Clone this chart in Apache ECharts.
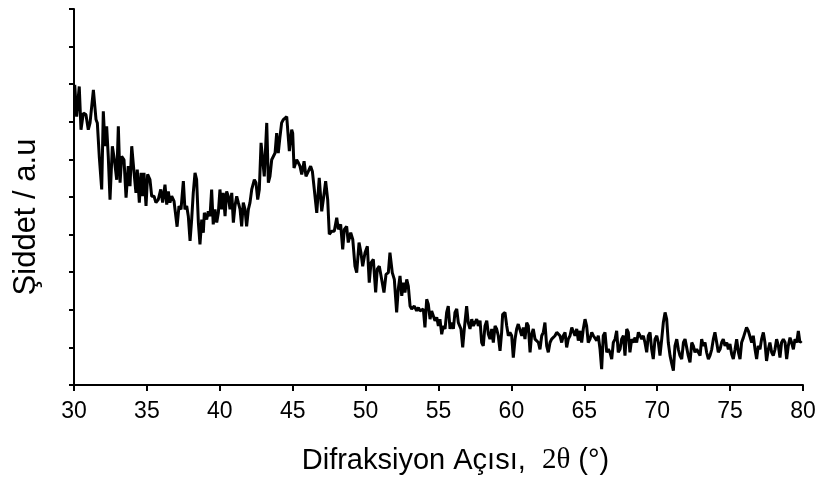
<!DOCTYPE html>
<html>
<head>
<meta charset="utf-8">
<script src="https://cdn.jsdelivr.net/npm/echarts@6/dist/echarts.min.js"></script>
<style>
  html, body { margin: 0; padding: 0; background: #fff; }
  #main { width: 820px; height: 480px; }
</style>
</head>
<body>
<div id="main"></div>
<script>
// 2θ (derece) ve şiddet (keyfi birim)
var twoTheta = [
  30.05, 30.18, 30.36, 30.48, 30.64, 30.82, 30.98, 31.10, 31.33, 31.51, 31.60, 31.74, 31.90, 32.01, 32.13, 32.24,
  32.35, 32.47, 32.63, 32.77, 32.93, 33.04, 33.16, 33.27, 33.43, 33.57, 33.72, 33.84, 33.96, 34.12, 34.25, 34.34,
  34.48, 34.60, 34.71, 34.80, 34.94, 35.05, 35.21, 35.33, 35.49, 35.62, 35.78, 35.95, 36.08, 36.24, 36.36, 36.47,
  36.58, 36.70, 36.86, 37.07, 37.20, 37.34, 37.50, 37.61, 37.73, 37.84, 37.96, 38.07, 38.18, 38.30, 38.41, 38.53,
  38.64, 38.76, 38.87, 38.94, 39.10, 39.21, 39.33, 39.44, 39.55, 39.67, 39.79, 39.90, 40.01, 40.13, 40.24, 40.36,
  40.47, 40.58, 40.70, 40.82, 40.93, 41.04, 41.16, 41.27, 41.39, 41.50, 41.61, 41.73, 41.84, 41.96, 42.07, 42.19,
  42.37, 42.48, 42.60, 42.71, 42.83, 42.94, 43.05, 43.22, 43.33, 43.44, 43.56, 43.67, 43.79, 43.90, 44.01, 44.13,
  44.24, 44.36, 44.59, 44.77, 44.93, 45.00, 45.09, 45.27, 45.39, 45.50, 45.62, 45.78, 45.91, 46.07, 46.23, 46.35,
  46.53, 46.65, 46.82, 46.99, 47.10, 47.26, 47.40, 47.51, 47.67, 47.85, 48.02, 48.13, 48.29, 48.43, 48.54, 48.70,
  48.81, 48.98, 49.12, 49.27, 49.39, 49.55, 49.68, 49.80, 49.96, 50.12, 50.25, 50.37, 50.53, 50.69, 50.80, 50.94,
  51.10, 51.26, 51.40, 51.56, 51.67, 51.83, 51.97, 52.13, 52.24, 52.36, 52.48, 52.59, 52.70, 52.82, 52.93, 53.05,
  53.16, 53.34, 53.50, 53.62, 53.73, 53.85, 53.96, 54.07, 54.19, 54.30, 54.42, 54.53, 54.64, 54.76, 54.88, 54.99,
  55.10, 55.22, 55.33, 55.45, 55.56, 55.67, 55.79, 55.91, 56.02, 56.13, 56.25, 56.36, 56.54, 56.66, 56.77, 56.93,
  57.04, 57.16, 57.28, 57.39, 57.50, 57.62, 57.73, 57.85, 57.96, 58.07, 58.19, 58.31, 58.42, 58.53, 58.65, 58.76,
  58.88, 58.99, 59.10, 59.22, 59.33, 59.40, 59.56, 59.68, 59.79, 59.90, 60.02, 60.13, 60.25, 60.36, 60.47, 60.59,
  60.71, 60.82, 60.93, 61.05, 61.16, 61.28, 61.39, 61.50, 61.62, 61.74, 61.85, 61.96, 62.08, 62.19, 62.30, 62.42,
  62.53, 62.65, 62.76, 62.87, 62.99, 63.11, 63.22, 63.33, 63.45, 63.56, 63.68, 63.79, 63.90, 64.02, 64.14, 64.25,
  64.36, 64.48, 64.59, 64.71, 64.82, 64.93, 65.05, 65.16, 65.27, 65.39, 65.51, 65.62, 65.73, 65.85, 65.96, 66.08,
  66.19, 66.30, 66.42, 66.54, 66.65, 66.76, 66.88, 66.99, 67.11, 67.22, 67.33, 67.45, 67.56, 67.68, 67.79, 67.91,
  68.02, 68.13, 68.25, 68.36, 68.48, 68.59, 68.71, 68.82, 68.94, 69.05, 69.16, 69.28, 69.39, 69.51, 69.62, 69.73,
  69.85, 69.97, 70.08, 70.19, 70.31, 70.42, 70.54, 70.65, 70.76, 70.88, 71.00, 71.11, 71.22, 71.34, 71.45, 71.56,
  71.68, 71.80, 71.91, 72.02, 72.13, 72.25, 72.37, 72.48, 72.59, 72.71, 72.82, 72.94, 73.05, 73.16, 73.28, 73.39,
  73.51, 73.62, 73.74, 73.85, 73.96, 74.08, 74.19, 74.31, 74.42, 74.53, 74.65, 74.77, 74.88, 74.99, 75.11, 75.22,
  75.34, 75.45, 75.57, 75.68, 75.79, 75.91, 76.02, 76.13, 76.25, 76.37, 76.48, 76.59, 76.71, 76.82, 76.93, 77.05,
  77.16, 77.28, 77.39, 77.50, 77.62, 77.73, 77.85, 77.96, 78.08, 78.19, 78.31, 78.42, 78.53, 78.65, 78.77, 78.88,
  78.99, 79.11, 79.22, 79.34, 79.45, 79.57, 79.68, 79.79, 79.90
];
var intensity = [
  7.98, 7.14, 7.94, 6.79, 7.23, 7.19, 6.79, 6.97, 7.85, 7.06, 6.97, 6.04, 5.20, 7.28, 6.35, 6.88,
  6.08, 4.93, 6.35, 5.99, 5.46, 6.88, 5.38, 6.08, 5.99, 4.98, 5.82, 5.29, 6.35, 5.64, 5.11, 5.73,
  4.85, 5.64, 5.02, 5.64, 4.76, 5.60, 5.46, 5.02, 5.02, 4.85, 4.93, 5.20, 4.85, 5.33, 4.80, 5.15,
  4.85, 5.02, 4.89, 4.21, 4.76, 4.67, 5.42, 4.67, 4.76, 4.49, 3.83, 4.40, 5.11, 5.64, 5.46, 4.32,
  3.74, 4.40, 4.05, 4.58, 4.40, 4.62, 4.49, 5.20, 4.27, 4.67, 4.32, 4.58, 5.20, 4.67, 5.11, 4.49,
  5.15, 5.02, 4.67, 5.11, 4.32, 4.76, 5.02, 4.85, 4.67, 4.22, 4.85, 4.67, 4.22, 4.67, 4.85, 5.20,
  5.46, 5.38, 4.93, 5.20, 6.44, 6.44, 5.55, 6.97, 5.38, 5.55, 5.99, 6.04, 6.17, 6.70, 6.17, 6.61,
  6.97, 7.06, 7.14, 6.22, 6.79, 6.70, 5.77, 5.99, 5.91, 5.82, 5.60, 5.95, 5.55, 5.68, 5.82, 5.68,
  5.02, 4.58, 5.51, 4.62, 4.93, 5.42, 4.93, 4.01, 4.09, 4.09, 4.45, 4.14, 4.27, 3.61, 4.14, 4.22,
  3.79, 4.05, 3.87, 3.16, 2.99, 3.79, 3.52, 3.16, 3.52, 3.69, 2.72, 3.25, 3.34, 2.46, 3.08, 3.16,
  2.81, 2.46, 2.94, 2.99, 3.52, 2.99, 2.81, 1.93, 2.55, 2.90, 2.37, 2.72, 2.46, 2.81, 2.63, 2.10,
  2.02, 2.10, 1.97, 2.06, 1.97, 1.97, 2.02, 1.53, 2.28, 2.15, 1.75, 1.97, 2.02, 1.71, 1.80, 1.57,
  1.75, 1.35, 1.57, 1.49, 1.93, 2.10, 1.49, 1.66, 1.49, 1.93, 2.02, 1.66, 1.49, 1.00, 1.49, 2.10,
  1.66, 1.49, 1.75, 1.57, 1.66, 1.75, 1.57, 1.71, 1.13, 1.04, 1.57, 1.71, 1.35, 1.22, 1.49, 1.13,
  1.57, 1.49, 1.31, 0.91, 1.40, 1.88, 1.93, 1.57, 1.31, 1.40, 1.31, 0.73, 1.22, 1.49, 1.62, 1.57,
  1.31, 1.53, 1.22, 1.66, 1.57, 0.87, 1.35, 1.49, 1.22, 1.26, 1.13, 0.95, 1.31, 1.40, 1.66, 1.04,
  0.87, 1.13, 1.22, 1.18, 1.31, 1.40, 1.44, 1.31, 1.13, 1.31, 1.40, 1.00, 1.22, 1.31, 1.53, 1.57,
  1.31, 1.49, 1.18, 1.44, 1.13, 1.49, 1.75, 1.57, 1.13, 1.22, 1.40, 1.31, 1.35, 1.18, 1.31, 0.95,
  0.42, 1.31, 1.40, 0.87, 0.95, 0.87, 0.69, 1.13, 1.22, 1.44, 0.87, 0.95, 1.22, 1.31, 0.78, 1.49,
  1.40, 0.87, 1.22, 1.13, 1.26, 1.13, 1.40, 1.35, 1.22, 1.31, 1.13, 0.87, 1.31, 1.40, 0.95, 0.69,
  1.22, 1.31, 1.13, 0.78, 1.22, 1.66, 1.93, 1.75, 1.13, 0.78, 0.56, 0.38, 1.04, 1.22, 0.95, 0.78,
  0.69, 1.13, 1.22, 1.00, 0.78, 0.60, 1.13, 1.04, 0.87, 0.95, 1.00, 0.78, 1.22, 1.04, 1.13, 0.87,
  0.69, 0.78, 0.95, 1.22, 1.40, 1.13, 0.87, 0.95, 1.13, 1.22, 1.04, 1.13, 0.95, 1.09, 0.82, 0.69,
  0.95, 1.22, 0.87, 0.69, 1.13, 1.26, 1.40, 1.53, 1.44, 1.49, 1.13, 1.31, 0.95, 0.69, 1.04, 0.95,
  1.22, 1.40, 1.13, 0.64, 0.95, 1.13, 0.87, 0.78, 0.95, 1.22, 1.04, 0.73, 1.13, 1.22, 1.13, 0.69,
  1.04, 1.26, 1.13, 0.95, 1.22, 1.13, 1.44, 1.13, 1.17
];
var xTicks = [30, 35, 40, 45, 50, 55, 60, 65, 70, 75, 80];

var myChart = echarts.init(document.getElementById('main'));

var pairs = [];
for (var i = 0; i < twoTheta.length; i++) {
    pairs.push([twoTheta[i], intensity[i]]);
}

var axisBlack = {lineStyle: {color: '#000', width: 2}};

var option = {
    animation: false,
    backgroundColor: '#fff',
    textStyle: {fontFamily: 'Liberation Sans, Arial, sans-serif'},
    grid: {left: 74, right: 17, top: 9, bottom: 94},
    xAxis: {
        type: 'value',
        min: xTicks[0],
        max: xTicks[xTicks.length - 1],
        interval: 5,
        axisLine: axisBlack,
        axisTick: {show: true, length: 6, lineStyle: {color: '#000', width: 2}},
        splitLine: {show: false},
        axisLabel: {color: '#000', fontSize: 23, margin: 15},
        name: '{a|Difraksiyon Açısı,  }{b|2θ}{a| (°)}',
        nameLocation: 'middle',
        nameGap: 61,
        nameTextStyle: {
            padding: [0, 0, 0, 34],
            rich: {
                a: {fontSize: 29, color: '#000', fontFamily: 'Liberation Sans, Arial, sans-serif'},
                b: {fontSize: 29, color: '#000', fontFamily: 'Liberation Serif, Times New Roman, serif'}
            }
        }
    },
    yAxis: {
        type: 'value',
        min: 0,
        max: 10,
        interval: 1,
        axisLine: {show: true, lineStyle: {color: '#000', width: 2}},
        axisTick: {show: true, length: 5, lineStyle: {color: '#000', width: 2}},
        axisLabel: {show: false},
        splitLine: {show: false},
        name: 'Şiddet / a.u',
        nameLocation: 'middle',
        nameGap: 32,
        nameTextStyle: {color: '#000', fontSize: 31, padding: [0, 40, 0, 0]}
    },
    series: [{
        type: 'line',
        data: pairs,
        showSymbol: false,
        symbol: 'none',
        lineStyle: {color: '#000', width: 3},
        z: 1
    }]
};

myChart.setOption(option);
</script>
</body>
</html>
